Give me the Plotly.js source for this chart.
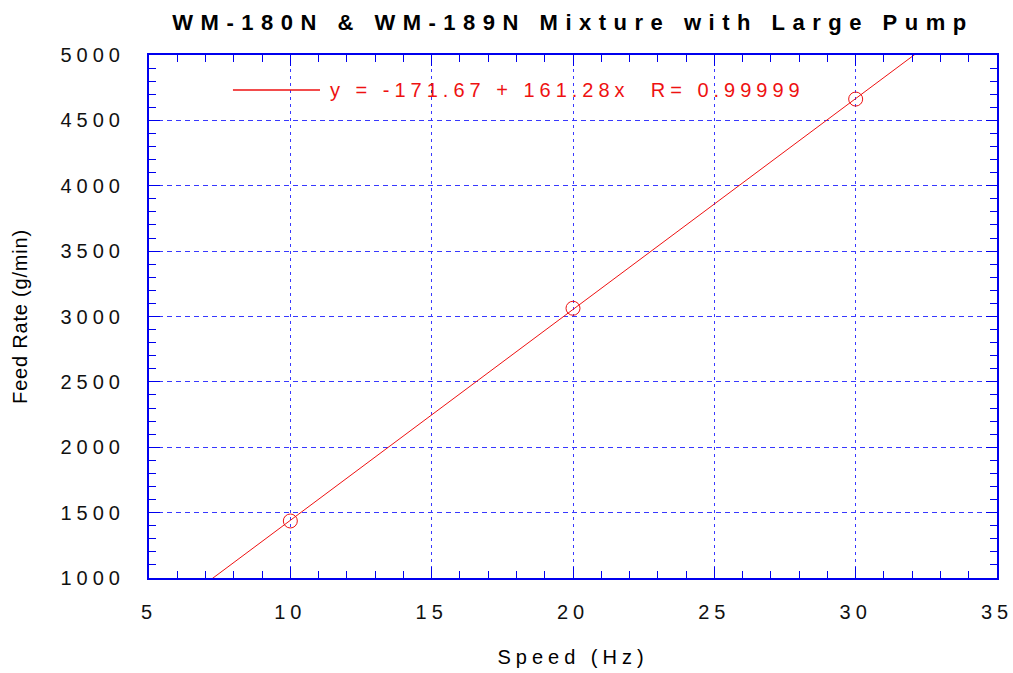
<!DOCTYPE html>
<html>
<head>
<meta charset="utf-8">
<script src="https://cdn.plot.ly/plotly-3.0.1.min.js"></script>
<style>
  html, body { margin: 0; padding: 0; background: #fff; }
  #chart { width: 1013px; height: 673px; }
  .xtick text, .ytick text { letter-spacing: 5px; }
  .gtitle { letter-spacing: 7.5px; }
  .xtitle { letter-spacing: 5px; }
  .ytitle { letter-spacing: 0.8px; }
  .annotation-text { letter-spacing: 5px; }
</style>
</head>
<body>
<div id="chart"></div>
<script>
// ---- data ----
const speedHz = [10, 20, 30];
const feedRate = [1436, 3063, 4663];
const fitIntercept = -171.67;
const fitSlope = 161.28;
const fitR = 0.99999;
const xTickVals = [5, 10, 15, 20, 25, 30, 35];
const yTickVals = [1000, 1500, 2000, 2500, 3000, 3500, 4000, 4500, 5000];
const xRange = [5, 35];
const yRange = [1000, 5000];

const chartTitle = 'WM-180N & WM-189N Mixture with Large Pump';
const xTitle = 'Speed (Hz)';
const yTitle = 'Feed Rate (g/min)';

// fit line evaluated from the stated regression equation at the axis ends
const fitX = xRange.slice();
const fitY = fitX.map(x => fitIntercept + fitSlope * x);

const RED = '#ee1111';
const BLUE = '#0000ee';
const GRID = '#3838ff';
const FONT = 'Liberation Sans, Arial, sans-serif';

const traces = [
  {
    x: fitX, y: fitY, type: 'scatter', mode: 'lines',
    line: { color: RED, width: 1 }, hoverinfo: 'skip', showlegend: false
  },
  {
    x: speedHz, y: feedRate, type: 'scatter', mode: 'markers',
    marker: { symbol: 'circle-open', size: 14, color: RED, line: { color: RED, width: 1 } },
    showlegend: false
  }
];

const axisCommon = {
  showline: true, linecolor: BLUE, linewidth: 2, mirror: 'allticks',
  ticks: 'inside', ticklen: 11, tickcolor: BLUE, tickwidth: 1,
  showgrid: true, gridcolor: GRID, gridwidth: 1,
  zeroline: false,
  ticklabeloverflow: 'allow',
  tickfont: { family: FONT, size: 20, color: '#111' }
};

const layout = {
  width: 1013, height: 673,
  margin: { l: 149, r: 16, t: 55, b: 95 },
  paper_bgcolor: '#fff', plot_bgcolor: '#fff',
  showlegend: false,
  title: {
    text: chartTitle, x: 0.5, xref: 'paper', xanchor: 'center',
    y: 1 - 22 / 673, yref: 'container', yanchor: 'middle',
    font: { family: FONT, size: 22, weight: 'bold', color: '#000' }
  },
  xaxis: Object.assign({}, axisCommon, {
    range: xRange, tickmode: 'array', tickvals: xTickVals,
    griddash: '3px,4px',
    ticklabelstandoff: 15,
    minor: { dtick: 1, ticks: 'inside', ticklen: 7, tickcolor: BLUE, tickwidth: 1, showgrid: false },
    title: { text: xTitle, standoff: 28, font: { family: FONT, size: 20, color: '#000' } }
  }),
  yaxis: Object.assign({}, axisCommon, {
    range: yRange, tickmode: 'array', tickvals: yTickVals,
    griddash: '5px,4px',
    ticklabelstandoff: 18,
    minor: { dtick: 100, ticks: 'inside', ticklen: 7, tickcolor: BLUE, tickwidth: 1, showgrid: false },
    title: { text: yTitle, standoff: 28, font: { family: FONT, size: 20, color: '#000' } }
  }),
  shapes: [
    { type: 'line', xref: 'paper', yref: 'paper', x0: 0.099, x1: 0.2017, y0: 0.933, y1: 0.933,
      line: { color: RED, width: 1.5 } }
  ],
  annotations: [
    {
      xref: 'paper', yref: 'paper', x: 0.2105, y: 0.933, xanchor: 'left', yanchor: 'middle',
      text: 'y = ' + fitIntercept + ' + ' + fitSlope + 'x  R= ' + fitR,
      showarrow: false, font: { family: FONT, size: 20, color: RED }
    }
  ]
};

Plotly.newPlot('chart', traces, layout, { displayModeBar: false, staticPlot: true });
</script>
</body>
</html>
